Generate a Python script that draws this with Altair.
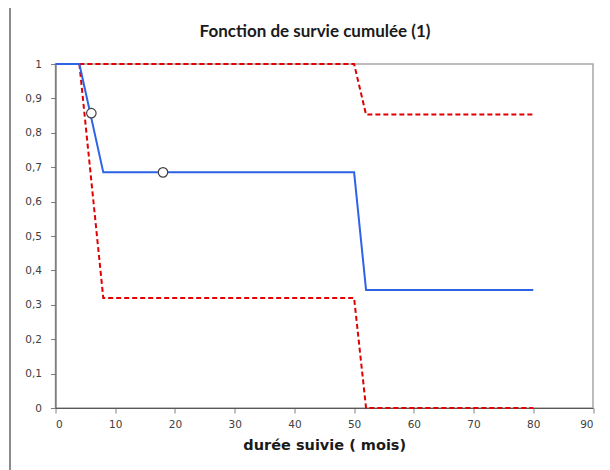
import altair as alt
import pandas as pd

# Data
blue_x = [0, 4, 8, 50, 52, 80]
blue_y = [1.0, 1.0, 0.685, 0.685, 0.343, 0.343]

upper_x = [4, 50, 52, 80]
upper_y = [1.0, 1.0, 0.853, 0.853]

lower_x = [4, 8, 50, 52, 80]
lower_y = [1.0, 0.32, 0.32, 0.0, 0.0]

pt_x = [6, 18]
pt_y = [0.857, 0.685]

title_text = "Fonction de survie cumulée (1)"

blue = pd.DataFrame({"x": blue_x, "y": blue_y, "o": range(len(blue_x))})
upper = pd.DataFrame({"x": upper_x, "y": upper_y, "o": range(len(upper_x))})
lower = pd.DataFrame({"x": lower_x, "y": lower_y, "o": range(len(lower_x))})
pts = pd.DataFrame({"x": pt_x, "y": pt_y})

xs = alt.Scale(domain=[0, 90], nice=False, zero=False)
ys = alt.Scale(domain=[0, 1], nice=False)

xaxis = alt.Axis(
    values=list(range(0, 91, 10)), grid=False, title="durée suivie  ( mois)",
    labelFont="DejaVu Sans", labelFontSize=10.5, labelColor="#404040",
    labelPadding=6, tickSize=5, tickColor="#808080", domainColor="#595959",
    titleFont="DejaVu Sans", titleFontSize=14.5, titleFontWeight="bold",
    titleColor="#1a1a1a", titlePadding=9,
)
yaxis = alt.Axis(
    values=[i / 10 for i in range(11)], grid=False, title=None,
    labelExpr="datum.value == 0 ? '0' : datum.value == 1 ? '1' : replace(format(datum.value, '.1f'), '.', ',')",
    labelFont="DejaVu Sans", labelFontSize=10.5, labelColor="#404040",
    labelPadding=9, tickSize=5, tickColor="#808080", domainColor="#595959",
)

X = alt.X("x:Q", scale=xs, axis=xaxis)
Y = alt.Y("y:Q", scale=ys, axis=yaxis)

one = pd.DataFrame({"t": [title_text]})

border = alt.Chart(one).mark_rule(stroke="#8c8c8c", strokeWidth=2, clip=False).encode(
    x=alt.value(-45.5), y=alt.value(-58), y2=alt.value(420))

title = alt.Chart(one).mark_text(
    font="Lato", fontSize=17, fontWeight="bold", color="#1a1a1a",
    align="center", baseline="middle", clip=False
).encode(x=alt.value(259.5), y=alt.value(-32), text="t:N")

l_upper = alt.Chart(upper).mark_line(color="#e00000", strokeDash=[5, 3], strokeWidth=2).encode(
    x=X, y=Y, order="o:Q")
l_lower = alt.Chart(lower).mark_line(color="#e00000", strokeDash=[5, 3], strokeWidth=2).encode(
    x=X, y=Y, order="o:Q")
l_blue = alt.Chart(blue).mark_line(color="#2d63e6", strokeWidth=2).encode(
    x=X, y=Y, order="o:Q")
p = alt.Chart(pts).mark_point(filled=True, fill="white", stroke="#404040", strokeWidth=1.2,
                              size=90, opacity=1, shape="circle").encode(x=X, y=Y)

chart = alt.layer(border, title, l_upper, l_lower, l_blue, p).properties(
    width=537.5, height=344,
    autosize=alt.AutoSizeParams(type="none"),
    padding={"left": 47.5, "top": 56, "right": 9, "bottom": 62},
    background="white",
).configure_view(stroke="#a6a6a6", strokeWidth=1.5)

chart.save("out.html", embed_options={"renderer": "svg", "actions": False})
